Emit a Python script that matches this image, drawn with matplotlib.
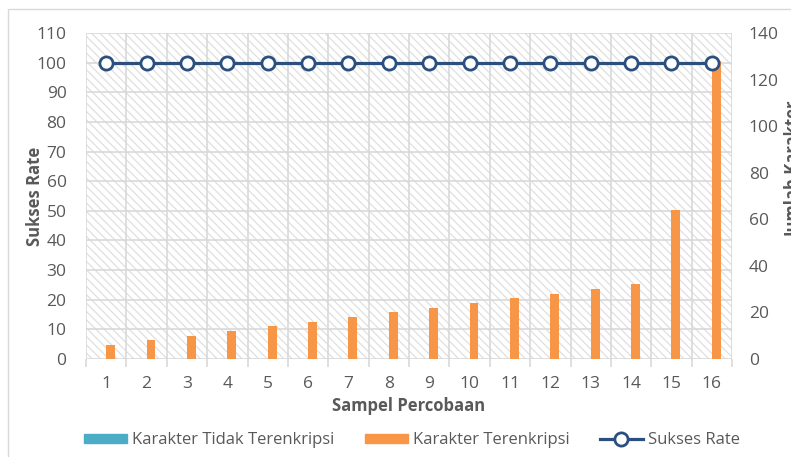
import matplotlib
matplotlib.use("Agg")
import numpy as np
from matplotlib import pyplot as plt
from matplotlib.patches import Rectangle
from matplotlib.lines import Line2D
from matplotlib.patches import Patch

# data
sampel = list(range(1, 17))
tidak_terenkripsi = [0] * 16
terenkripsi = [6, 8, 10, 12, 14, 16, 18, 20, 22, 24, 26, 28, 30, 32, 64, 128]
sukses_rate = [100] * 16

left_ticks = list(range(0, 111, 10))
right_ticks = list(range(0, 141, 20))

TEXT = "#595959"
GRID = "#d9d9d9"
HATCH = "#dcdcdc"
ORANGE = "#F79646"
BLUE = "#4BACC6"
NAVY = "#2B4F7E"

plt.rcParams["font.family"] = ["Open Sans", "DejaVu Sans"]
plt.rcParams["hatch.linewidth"] = 0.8

W, H = 791, 457
fig = plt.figure(figsize=(W / 100, H / 100), dpi=100)

# outer chart border (cropped)
fig.patches.append(Rectangle((8 / W, -0.1), 1.2, 1.1 - 9 / H, transform=fig.transFigure,
                             facecolor="none", edgecolor=GRID, lw=1, zorder=-1))

x0, x1, y0, y1 = 86, 732, 33, 359
rect = [x0 / W, 1 - y1 / H, (x1 - x0) / W, (y1 - y0) / H]
ax2 = fig.add_axes(rect)          # bars, right axis
ax = fig.add_axes(rect)           # line, left axis
ax.set_zorder(ax2.get_zorder() + 1)
ax.patch.set_visible(False)

# hatched background
ax2.add_patch(Rectangle((0, 0), 1, 1, transform=ax2.transAxes, facecolor="white",
                        edgecolor=HATCH, hatch="\\" * 4, lw=0, zorder=0))

ax2.set_ylim(0, 140)
ax.set_ylim(0, 110)
ax2.set_xlim(0.5, 16.5)
ax.set_xlim(0.5, 16.5)

# grid lines drawn behind bars
scale = 140 / 110
for v in left_ticks:
    ax2.axhline(v * scale, color=GRID, lw=1.2, zorder=1)
for b in np.arange(0.5, 17, 1):
    ax2.axvline(b, color=GRID, lw=1.2, zorder=1)

w = 0.22
ax2.bar(np.array(sampel), tidak_terenkripsi, width=-w, align="edge", color=BLUE, zorder=2)
ax2.bar(np.array(sampel), terenkripsi, width=w, align="edge", color=ORANGE, zorder=2)

ax.plot(sampel, sukses_rate, color=NAVY, lw=2.3, marker="o", markersize=9.5,
        markerfacecolor="white", markeredgecolor=NAVY, markeredgewidth=2, zorder=3)

for a in (ax, ax2):
    for s in a.spines.values():
        s.set_visible(False)

ax.set_yticks(left_ticks)
ax.tick_params(axis="y", length=0, labelsize=12.5, labelcolor=TEXT, pad=14)
ax2.yaxis.tick_right()
ax2.set_yticks(right_ticks)
ax2.tick_params(axis="y", length=0, labelsize=12.5, labelcolor=TEXT, pad=12)

ax2.set_xticks(np.arange(0.5, 17, 1))
ax2.set_xticks(sampel, minor=True)
ax2.set_xticklabels(sampel, minor=True)
ax2.tick_params(axis="x", which="major", length=6, color=GRID, width=1.2, labelbottom=False)
ax2.tick_params(axis="x", which="minor", length=0, labelsize=12.5, labelcolor=TEXT, pad=12)
ax.tick_params(axis="x", which="both", bottom=False, labelbottom=False)

ax.set_ylabel("Sukses Rate", fontsize=12, fontweight="bold", color=TEXT, labelpad=-5)
ax2.set_xlabel("Sampel Percobaan", fontsize=12, fontweight="bold", color=TEXT, labelpad=4)
fig.text(794 / W, 1 - 170 / H, "Jumlah Karakter", rotation=90, ha="center", va="center",
         fontsize=12, fontweight="bold", color=TEXT)

handles = [
    Patch(facecolor=BLUE, edgecolor=BLUE),
    Patch(facecolor=ORANGE, edgecolor=ORANGE),
    Line2D([0], [0], color=NAVY, lw=2.3, marker="o", markersize=9.5,
           markerfacecolor="white", markeredgecolor=NAVY, markeredgewidth=2),
]
labels = ["Karakter Tidak Terenkripsi", "Karakter Terenkripsi", "Sukses Rate"]
fig.legend(handles, labels, loc="center", bbox_to_anchor=(412 / W, 1 - 440 / H), ncol=3,
           frameon=False, fontsize=12, labelcolor=TEXT, handlelength=2.6,
           handleheight=0.45, handletextpad=0.3, columnspacing=1.8)

fig.savefig("out.png", dpi=100)
